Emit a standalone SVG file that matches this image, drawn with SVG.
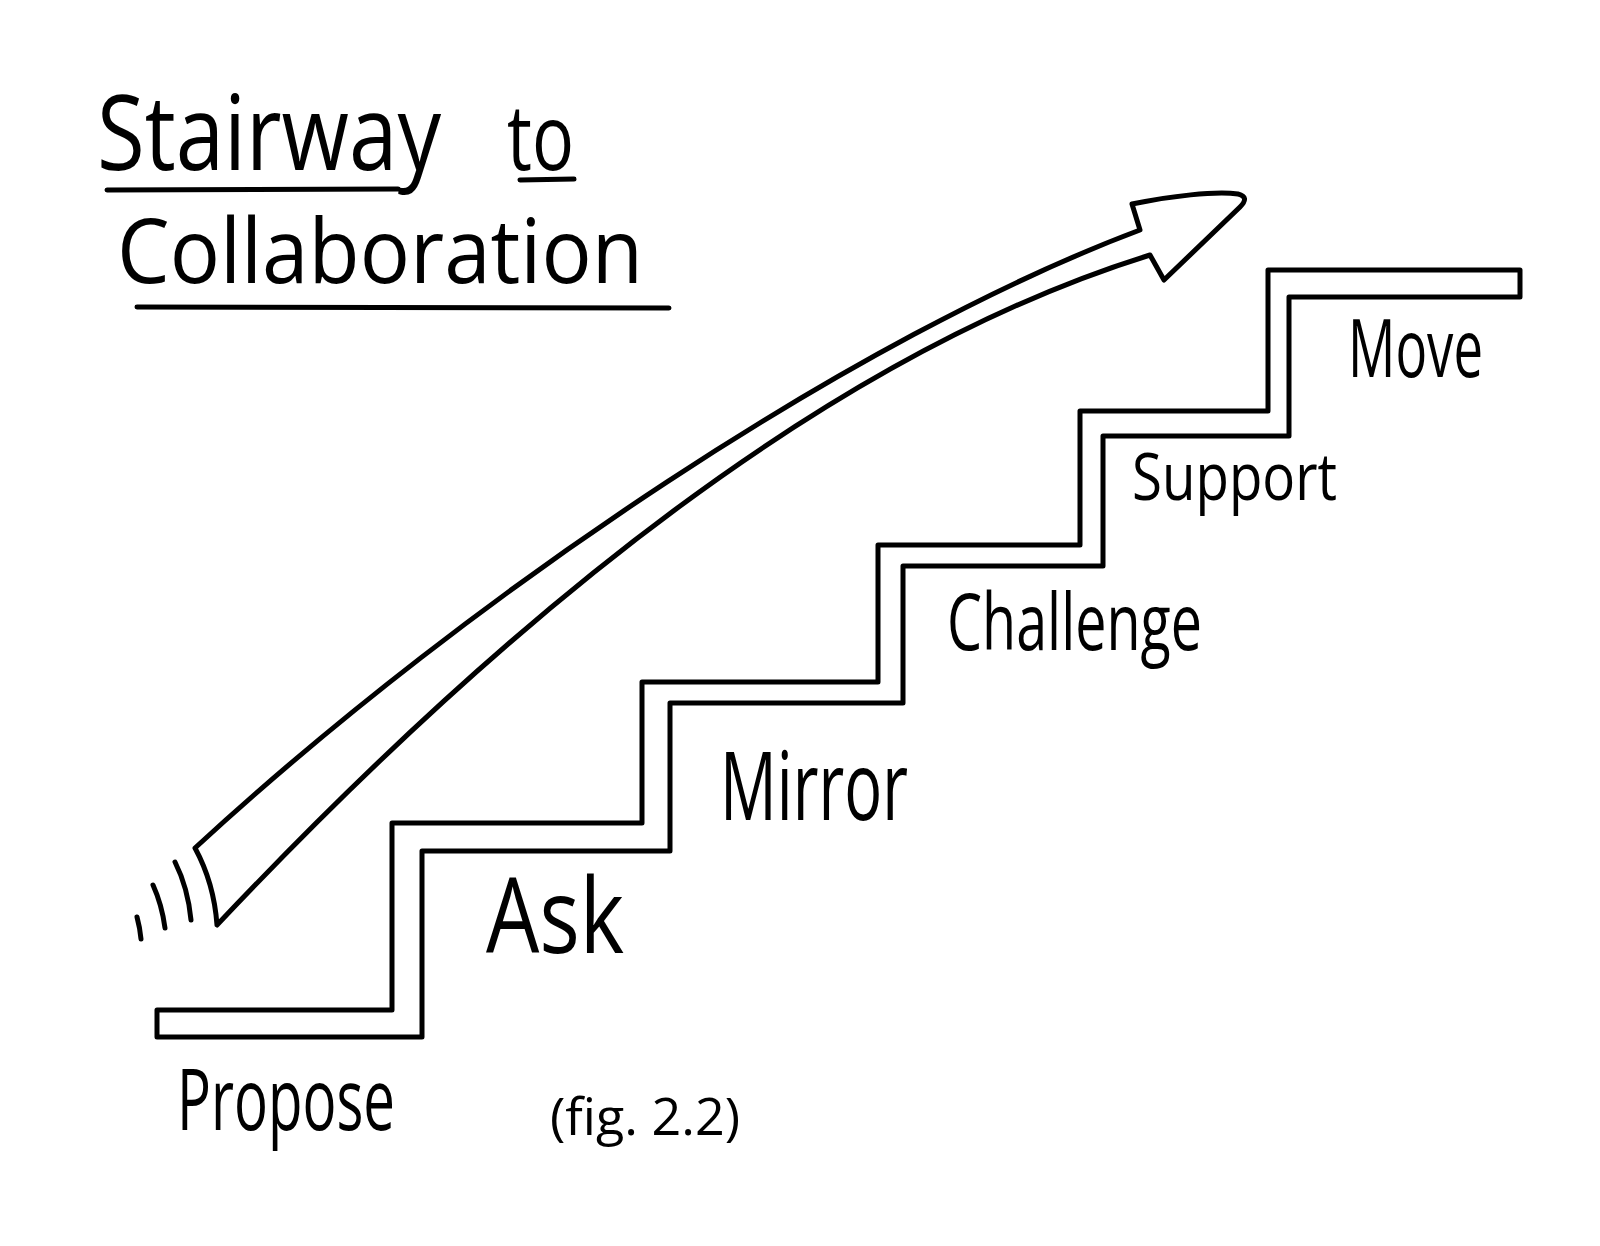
<svg xmlns="http://www.w3.org/2000/svg" width="1600" height="1246" viewBox="0 0 1600 1246">
  <style>
    .ink { fill: none; stroke: #000; stroke-width: 5; stroke-linejoin: round; stroke-linecap: round; }
    .hand { font-family: "Open Sans", "Liberation Sans", "DejaVu Sans", sans-serif; font-weight: 400; fill: #000; }
  </style>
  <rect x="0" y="0" width="1600" height="1246" fill="#fff"/>

  <g id="title">
    <text class="hand" x="97" y="170" font-size="104" textLength="344" lengthAdjust="spacingAndGlyphs">Stairway</text>
    <text class="hand" x="507" y="170" font-size="92" textLength="67" lengthAdjust="spacingAndGlyphs">to</text>
    <text class="hand" x="117" y="283" font-size="90" textLength="526" lengthAdjust="spacingAndGlyphs">Collaboration</text>
    <path class="ink" d="M107,190 L398,189"/>
    <path class="ink" d="M520,180 L574,179"/>
    <path class="ink" d="M137,307 L669,308"/>
  </g>

  <g id="staircase">
    <polygon class="ink" stroke-linejoin="miter" points="157,1010 392,1010 392,823 642,823 642,682 878,682 878,545 1080,545 1080,411 1268,411 1268,270 1520,270 1520,297 1289,297 1289,436 1103,436 1103,566 903,566 903,703 670,703 670,851 422,851 422,1037 157,1037"/>
  </g>

  <g id="step-propose">
    <text class="hand" x="177" y="1130" font-size="86" textLength="218" lengthAdjust="spacingAndGlyphs">Propose</text>
  </g>
  <g id="step-ask">
    <text class="hand" x="486" y="953" font-size="104" textLength="138" lengthAdjust="spacingAndGlyphs">Ask</text>
  </g>
  <g id="step-mirror">
    <text class="hand" x="720" y="820" font-size="96" textLength="188" lengthAdjust="spacingAndGlyphs">Mirror</text>
  </g>
  <g id="step-challenge">
    <text class="hand" x="947" y="650" font-size="78" textLength="255" lengthAdjust="spacingAndGlyphs">Challenge</text>
  </g>
  <g id="step-support">
    <text class="hand" x="1132" y="500" font-size="66" textLength="205" lengthAdjust="spacingAndGlyphs">Support</text>
  </g>
  <g id="step-move">
    <text class="hand" x="1348" y="377" font-size="80" textLength="135" lengthAdjust="spacingAndGlyphs">Move</text>
  </g>

  <g id="caption">
    <text class="hand" x="550" y="1135" font-size="52" textLength="190" lengthAdjust="spacingAndGlyphs">(fig. 2.2)</text>
  </g>

  <g id="connectors">
    <path class="ink" stroke-width="4.5" d="M195,848 C475,590 860,335 1140,230 L1132,204 C1170,196 1215,191 1238,194 Q1250,197 1240,207 L1164,280 L1150,255 C850,348 537,586 217,925 Q214,883 195,848 Z"/>
    <path class="ink" d="M175,862 Q188,888 191,920"/>
    <path class="ink" d="M153,885 Q162,905 165,928"/>
    <path class="ink" d="M137,917 Q140,928 141,939"/>
  </g>
</svg>
